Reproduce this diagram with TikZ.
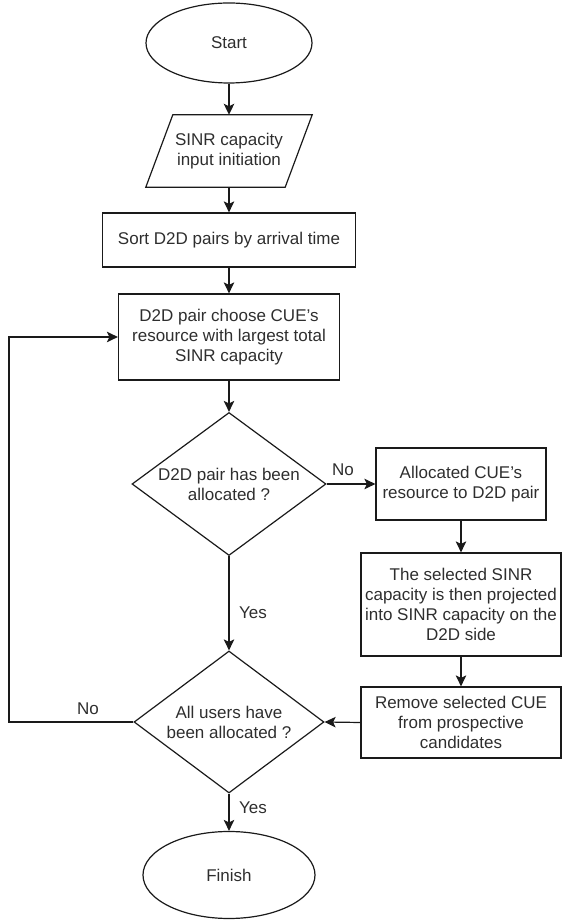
\documentclass[tikz,border=0pt]{standalone}
\usepackage{fontspec}
\setmainfont{Liberation Sans}
\usepackage{xcolor}
\usepackage{tikz}
\usetikzlibrary{shapes.geometric,arrows.meta}
\definecolor{ink}{HTML}{1A1A1A}
\definecolor{txt}{HTML}{2E2E2E}
\tikzset{
  plainline/.style={draw=ink, line width=1.2pt},
  flowline/.style={draw=ink, line width=1.2pt, -{Stealth[length=11pt,width=10.5pt,inset=2.5pt]}},
  procbox/.style={rectangle, draw=ink, line width=1.2pt, align=center, text=txt, font=\fontsize{17}{20}\selectfont, inner sep=2pt},
  decide/.style={diamond, aspect=1.35, draw=ink, line width=1.2pt, align=center, text=txt, font=\fontsize{17}{20}\selectfont, inner sep=0pt},
  term/.style={ellipse, draw=ink, line width=1.2pt, text=txt, font=\fontsize{17}{20}\selectfont},
  lab/.style={text=txt, font=\fontsize{17}{20}\selectfont},
}

\begin{document}
\begin{tikzpicture}[x=1pt,y=1pt]
  \useasboundingbox (0,0) rectangle (562,922);
  % main column
  \node[term, minimum width=166pt, minimum height=80pt] (start) at (229,879) {Start};
  \node[align=center, text=txt, font=\fontsize{17}{20}\selectfont, minimum width=139pt, minimum height=72pt] (input) at (229,771) {SINR capacity\\input initiation};
  \draw[plainline] ([xshift=13.5pt]input.north west) -- ([xshift=13.5pt]input.north east)
    -- ([xshift=-13.5pt]input.south east) -- ([xshift=-13.5pt]input.south west) -- cycle;
  \node[procbox, minimum width=253pt, minimum height=54pt] (sort) at (229,682) {Sort D2D pairs by arrival time};
  \node[procbox, minimum width=221pt, minimum height=86pt] (choose) at (229,585) {D2D pair choose CUE’s\\resource with largest total\\SINR capacity};
  \node[decide, minimum width=194pt, minimum height=143pt] (paired) at (229,438) {D2D pair has been\\allocated ?};
  \node[decide, minimum width=190pt, minimum height=142pt] (alldone) at (229,200) {All users have\\been allocated ?};
  \node[term, minimum width=172pt, minimum height=87pt] (finish) at (229,47) {Finish};
  % right column
  \node[procbox, minimum width=170pt, minimum height=72pt] (assign) at (461,438) {Allocated CUE’s\\resource to D2D pair};
  \node[procbox, minimum width=200pt, minimum height=103pt] (project) at (461,317.5) {The selected SINR\\capacity is then projected\\into SINR capacity on the\\D2D side};
  \node[procbox, minimum width=200pt, minimum height=71pt] (remove) at (461,199.5) {Remove selected CUE\\from prospective\\candidates};
  % connectors
  \draw[flowline] (start) -- (input);
  \draw[flowline] (input) -- (sort);
  \draw[flowline] (sort) -- (choose);
  \draw[flowline] (choose) -- (paired);
  \draw[flowline] (paired) -- (assign);
  \draw[flowline] (paired) -- (alldone);
  \draw[flowline] (assign) -- (project);
  \draw[flowline] (project) -- (remove);
  \draw[flowline] (remove.west) -- (alldone.east);
  \draw[flowline] (alldone) -- (finish);
  \coordinate (loopx) at (9,0);
  \draw[flowline] (alldone.west) -- (alldone.west -| loopx) -- (choose.west -| loopx) -- (choose.west);
  % branch labels
  \node[lab] (noA) at (343,452) {No};
  \node[lab] (yesA) at (253,309) {Yes};
  \node[lab] (noB) at (88,213) {No};
  \node[lab] (yesB) at (253,114) {Yes};
\end{tikzpicture}
\end{document}
